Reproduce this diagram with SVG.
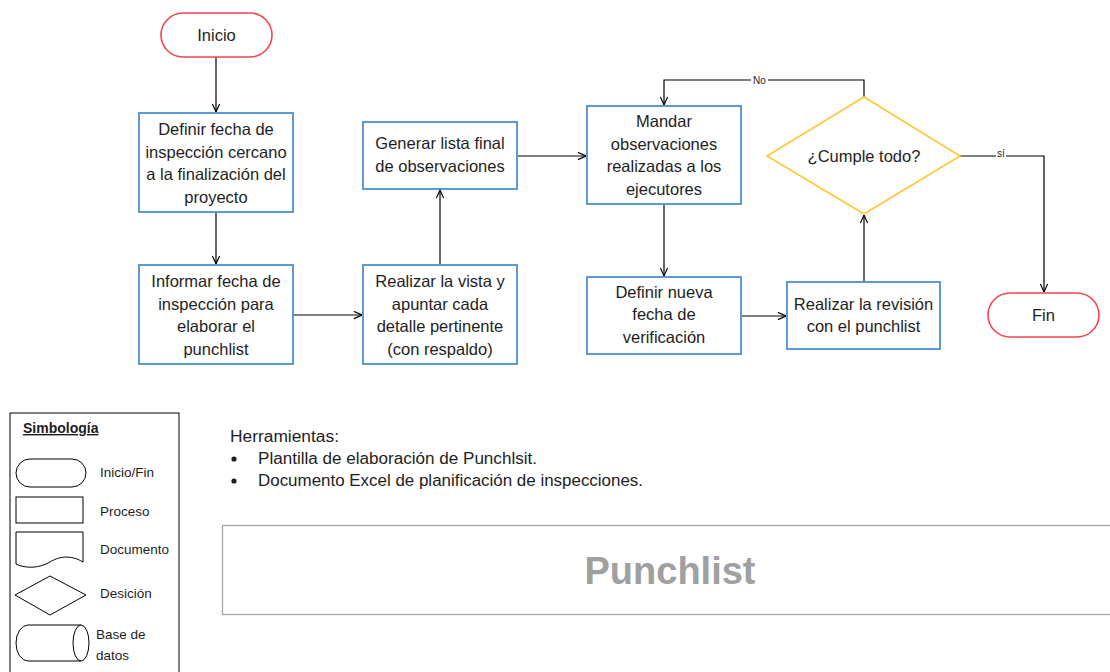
<svg xmlns="http://www.w3.org/2000/svg" width="1110" height="672" viewBox="0 0 1110 672">
<style>
text{font-family:"Liberation Sans",Arial,sans-serif;fill:#1e1e1e}
.t{font-size:16.5px;text-anchor:middle}
.proc{fill:#fff;stroke:#5b9bd5;stroke-width:2}
.term{fill:#fff;stroke:#f0484f;stroke-width:1.6}
.dec{fill:#fff;stroke:#ffc833;stroke-width:1.6}
.c{fill:none;stroke:#000;stroke-width:1.2}
.lg{fill:#fff;stroke:#000;stroke-width:1}
.ll{font-size:13.5px}
.lbl{font-size:10px;text-anchor:middle}
.h{font-size:16px}
</style>
<defs>
<marker id="ah" viewBox="0 0 10 10" refX="10" refY="5" markerWidth="9" markerHeight="9" markerUnits="userSpaceOnUse" orient="auto">
<path d="M1,1 L10,5 L1,9" fill="none" stroke="#000" stroke-width="1.3"/>
</marker>
</defs>
<rect width="1110" height="672" fill="#fff"/>

<g id="connectors">
<path class="c" d="M216,57 V112" marker-end="url(#ah)"/>
<path class="c" d="M216,212 V264" marker-end="url(#ah)"/>
<path class="c" d="M293,315 H362" marker-end="url(#ah)"/>
<path class="c" d="M440,265 V190" marker-end="url(#ah)"/>
<path class="c" d="M517,156 H586" marker-end="url(#ah)"/>
<path class="c" d="M664,204 V276" marker-end="url(#ah)"/>
<path class="c" d="M741,316 H786" marker-end="url(#ah)"/>
<path class="c" d="M864,282 V215" marker-end="url(#ah)"/>
<path class="c" d="M864,97 V80 H664 V105" marker-end="url(#ah)"/>
<path class="c" d="M960,156 H1044 V292" marker-end="url(#ah)"/>
<rect x="751" y="74" width="17" height="12" fill="#fff"/>
<text class="lbl" x="759.5" y="84">No</text>
<rect x="996" y="149" width="10" height="8" fill="#fff"/>
<text class="lbl" x="1001" y="157">sí</text>
</g>

<g id="inicio">
<rect class="term" x="161" y="13" width="111" height="44" rx="22"/>
<text class="t" x="216.5" y="41">Inicio</text>
</g>
<g id="definir-fecha">
<rect class="proc" x="139" y="113" width="154" height="99"/>
<text class="t" x="216" y="135">Definir fecha de</text>
<text class="t" x="216" y="158">inspección cercano</text>
<text class="t" x="216" y="180">a la finalización del</text>
<text class="t" x="216" y="203">proyecto</text>
</g>
<g id="informar">
<rect class="proc" x="139" y="265" width="154" height="99"/>
<text class="t" x="216" y="287">Informar fecha de</text>
<text class="t" x="216" y="310">inspección para</text>
<text class="t" x="216" y="332">elaborar el</text>
<text class="t" x="216" y="355">punchlist</text>
</g>
<g id="realizar-vista">
<rect class="proc" x="363" y="265" width="154" height="99"/>
<text class="t" x="440" y="287">Realizar la vista y</text>
<text class="t" x="440" y="310">apuntar cada</text>
<text class="t" x="440" y="332">detalle pertinente</text>
<text class="t" x="440" y="355">(con respaldo)</text>
</g>
<g id="generar">
<rect class="proc" x="363" y="122" width="154" height="67"/>
<text class="t" x="440" y="149">Generar lista final</text>
<text class="t" x="440" y="172">de observaciones</text>
</g>
<g id="mandar">
<rect class="proc" x="587" y="106" width="154" height="98"/>
<text class="t" x="664" y="127">Mandar</text>
<text class="t" x="664" y="150">observaciones</text>
<text class="t" x="664" y="172">realizadas a los</text>
<text class="t" x="664" y="195">ejecutores</text>
</g>
<g id="definir-nueva">
<rect class="proc" x="587" y="277" width="154" height="77"/>
<text class="t" x="664" y="298">Definir nueva</text>
<text class="t" x="664" y="320">fecha de</text>
<text class="t" x="664" y="343">verificación</text>
</g>
<g id="revision">
<rect class="proc" x="787" y="282" width="153" height="67"/>
<text class="t" x="863.5" y="310">Realizar la revisión</text>
<text class="t" x="863.5" y="332">con el punchlist</text>
</g>
<g id="cumple">
<polygon class="dec" points="864,97 960,156 864,214 767,156"/>
<text class="t" x="864" y="162">¿Cumple todo?</text>
</g>
<g id="fin">
<rect class="term" x="988" y="293" width="111" height="44" rx="22"/>
<text class="t" x="1043.5" y="321">Fin</text>
</g>

<g id="legend">
<rect x="10" y="413" width="169" height="270" fill="#fff" stroke="#000" stroke-width="1"/>
<text x="23" y="433" style="font-size:14px;font-weight:bold;text-decoration:underline">Simbología</text>
<rect class="lg" x="16" y="459" width="70" height="28" rx="14"/>
<text class="ll" x="100" y="477">Inicio/Fin</text>
<rect class="lg" x="16" y="497" width="67" height="26"/>
<text class="ll" x="100" y="516">Proceso</text>
<path class="lg" d="M16,532 H83 V562 C70,554 58,557 50,562 C40,568 26,569 16,564 Z"/>
<text class="ll" x="100" y="554">Documento</text>
<polygon class="lg" points="50,576 86,595 50,615 15,595"/>
<text class="ll" x="100" y="598">Desición</text>
<path class="lg" d="M28,625 H81 A8,18 0 0 1 81,661 H28 A12,18 0 0 1 28,625 Z"/>
<path class="lg" fill="none" d="M81,625 A8,18 0 0 0 81,661"/>
<text class="ll" x="96" y="639">Base de</text>
<text class="ll" x="96" y="660">datos</text>
</g>

<g id="herramientas">
<text class="h" x="230" y="442" textLength="109" lengthAdjust="spacingAndGlyphs">Herramientas:</text>
<circle cx="234" cy="459" r="2.6" fill="#1e1e1e"/>
<text class="h" x="258" y="464" textLength="279" lengthAdjust="spacingAndGlyphs">Plantilla de elaboración de Punchlsit.</text>
<circle cx="234" cy="481" r="2.6" fill="#1e1e1e"/>
<text class="h" x="258" y="486" textLength="385" lengthAdjust="spacingAndGlyphs">Documento Excel de planificación de inspecciones.</text>
</g>

<g id="title">
<rect x="222.5" y="525.5" width="900" height="89" fill="#fff" stroke="#a6a6a6" stroke-width="1.3"/>
<text x="670" y="584" style="font-size:38px;font-weight:bold;fill:#a0a0a0;text-anchor:middle">Punchlist</text>
</g>
</svg>
